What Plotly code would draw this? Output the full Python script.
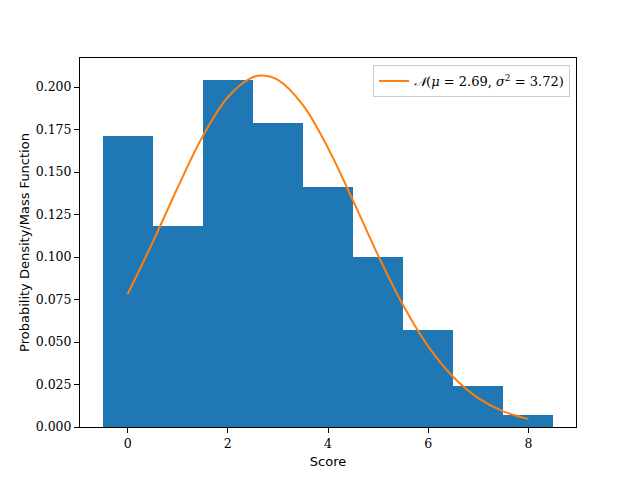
"""Score histogram with a fitted normal curve (Plotly rebuild of a matplotlib figure)."""

import plotly.graph_objects as go

# histogram: one bar per integer score, heights
scores = [0, 1, 2, 3, 4, 5, 6, 7, 8]
density = [0.171, 0.118, 0.204, 0.179, 0.141, 0.100, 0.057, 0.024, 0.007]

# fitted normal curve
curve_x = [0, 0.5, 1, 1.5, 2, 2.5, 2.69, 3, 3.5, 4, 4.5, 5, 5.5, 6, 6.5, 7, 7.5, 8]
curve_y = [0.0782, 0.1086, 0.1409, 0.1710, 0.1940, 0.2058, 0.2068, 0.2042, 0.1894,
           0.1642, 0.1332, 0.1010, 0.0716, 0.0474, 0.0294, 0.0170, 0.0092, 0.0047]

x_ticks = [0, 2, 4, 6, 8]
y_ticks = [0.0, 0.025, 0.05, 0.075, 0.1, 0.125, 0.15, 0.175, 0.2]
y_labels = ["0.000", "0.025", "0.050", "0.075", "0.100", "0.125", "0.150", "0.175", "0.200"]

legend_name = "<i>𝒩</i>(<i>μ</i> = 2.69, <i>σ</i><sup>2</sup> = 3.72)"

fig = go.Figure()
fig.add_trace(go.Bar(
    x=scores, y=density, width=1.0,
    marker=dict(color="#1f77b4", line=dict(width=0)),
    showlegend=False, hoverinfo="x+y",
))
fig.add_trace(go.Scatter(
    x=curve_x, y=curve_y, mode="lines", name=legend_name,
    line=dict(color="#ff7f0e", width=2, shape="spline"),
))

axis_common = dict(
    showline=True, linecolor="black", linewidth=1, mirror=True,
    ticks="outside", ticklen=5, tickwidth=1, tickcolor="black",
    showgrid=False, zeroline=False,
    tickfont=dict(family="DejaVu Serif", size=12.5, color="black"),
)
title_font = dict(family="DejaVu Sans", size=13, color="black")
fig.update_xaxes(range=[-0.95, 8.95], tickvals=x_ticks,
                 title=dict(text="Score", font=title_font, standoff=6),
                 **axis_common)
fig.update_yaxes(range=[0, 0.2171], tickvals=y_ticks, ticktext=y_labels,
                 title=dict(text="Probability Density/Mass Function",
                            font=title_font, standoff=3),
                 **axis_common)

# the page puts the figure 8px in from the top-left corner, so margins are shifted
fig.update_layout(
    width=640, height=480,
    margin=dict(l=72, r=72, t=50, b=61),
    paper_bgcolor="white", plot_bgcolor="white",
    bargap=0,
    legend=dict(x=0.988, y=0.981, xanchor="right", yanchor="top",
                bgcolor="rgba(255,255,255,0.8)", bordercolor="#cccccc", borderwidth=1,
                font=dict(family="DejaVu Serif", size=13, color="black")),
)

fig.write_html("out.html")
